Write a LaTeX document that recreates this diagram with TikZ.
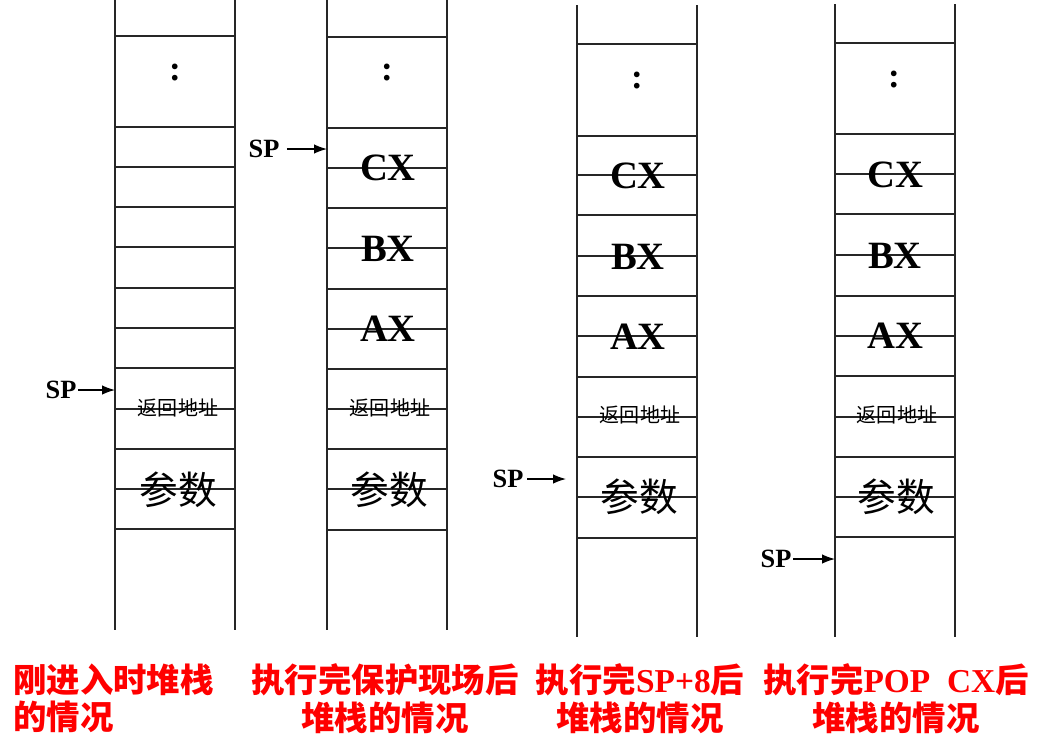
\documentclass[tikz,border=0pt]{standalone}
\usepackage{fontspec}
\setmainfont{Liberation Serif}
\newfontfamily\cjk{Noto Sans CJK SC}
\usetikzlibrary{arrows.meta}

\tikzset{
  stackline/.style={line width=0.8pt, draw=black!85},
  spptr/.style={line width=0.7pt, -{Latex[length=2.6mm,width=1.9mm]}},
  reg/.style={font=\fontsize{22}{24}\selectfont\bfseries, inner sep=0pt},
  dots/.style={font=\fontsize{20}{22}\selectfont\bfseries, inner sep=0pt},
  ret/.style={font=\fontsize{11.4}{12}\selectfont\cjk, inner sep=0pt},
  arg/.style={font=\fontsize{22}{24}\selectfont\cjk, inner sep=0pt},
  sp/.style={font=\fontsize{15}{16}\selectfont\bfseries, inner sep=1pt},
  caption/.style={font=\fontsize{19}{21.6}\selectfont\cjk\bfseries, text=red, inner sep=0pt, align=center, anchor=north}
}

\begin{document}
\begin{tikzpicture}[x=0.02cm, y=-0.02cm]
  \useasboundingbox (0,0) rectangle (1042,738);

  % Pila 1: al entrar
  \draw[stackline] (115,0) -- (115,630) (235,0) -- (235,630);
  \foreach \y in {36,127,167,207,247,288,328,368,409,449,489,529}
    \draw[stackline] (115,\y) -- (235,\y);
  \node[dots] (d1) at (175,73) {:};
  \node[ret] (r1) at (178,408) {返回地址};
  \node[arg] (a1) at (178,490) {参数};

  % Pila 2: tras guardar registros
  \draw[stackline] (327,0) -- (327,630) (447,0) -- (447,630);
  \foreach \y in {37,128,168,208,248,289,329,369,409,449,489,530}
    \draw[stackline] (327,\y) -- (447,\y);
  \node[dots] (d2) at (387,73) {:};
  \node[reg] (cx2) at (388,168) {CX};
  \node[reg] (bx2) at (388,249) {BX};
  \node[reg] (ax2) at (388,329) {AX};
  \node[ret] (r2) at (390,408) {返回地址};
  \node[arg] (a2) at (389,490) {参数};

  % Pila 3: tras SP+8
  \draw[stackline] (577,5) -- (577,637) (697,5) -- (697,637);
  \foreach \y in {44,136,175,215,256,296,336,377,417,457,497,538}
    \draw[stackline] (577,\y) -- (697,\y);
  \node[dots] (d3) at (637,81) {:};
  \node[reg] (cx3) at (638,176) {CX};
  \node[reg] (bx3) at (638,257) {BX};
  \node[reg] (ax3) at (638,337) {AX};
  \node[ret] (r3) at (640,415) {返回地址};
  \node[arg] (a3) at (639,497) {参数};

  % Pila 4: tras POP CX
  \draw[stackline] (835,4) -- (835,637) (955,4) -- (955,637);
  \foreach \y in {43,134,174,214,255,296,336,376,417,457,497,537}
    \draw[stackline] (835,\y) -- (955,\y);
  \node[dots] (d4) at (894,80) {:};
  \node[reg] (cx4) at (895,175) {CX};
  \node[reg] (bx4) at (895,256) {BX};
  \node[reg] (ax4) at (895,336) {AX};
  \node[ret] (r4) at (897,415) {返回地址};
  \node[arg] (a4) at (896,497) {参数};

  % Punteros SP
  \node[sp] (sp1) at (61,390) {SP};
  \coordinate (t1) at (115,390);
  \draw[spptr] (sp1) -- (t1);
  \node[sp] (sp2) at (264,149) {SP};
  \coordinate (t2) at (327,149);
  \draw[spptr, shorten <=3pt] (sp2) -- (t2);
  \node[sp] (sp3) at (508,479) {SP};
  \coordinate (t3) at (566,479);
  \draw[spptr, shorten <=1pt] (sp3) -- (t3);
  \node[sp] (sp4) at (776,559) {SP};
  \coordinate (t4) at (835,559);
  \draw[spptr] (sp4) -- (t4);

  % Leyendas
  \node[caption, align=left, anchor=north west] (c1) at (13,663) {刚进入时堆栈\\的情况};
  \node[caption] (c2) at (385,663) {执行完保护现场后\\堆栈的情况};
  \node[caption] (c3) at (640,663) {执行完{\rmfamily SP+8}后\\堆栈的情况};
  \node[caption] (c4) at (896,663) {执行完{\rmfamily POP\ \ CX}后\\堆栈的情况};
\end{tikzpicture}
\end{document}
